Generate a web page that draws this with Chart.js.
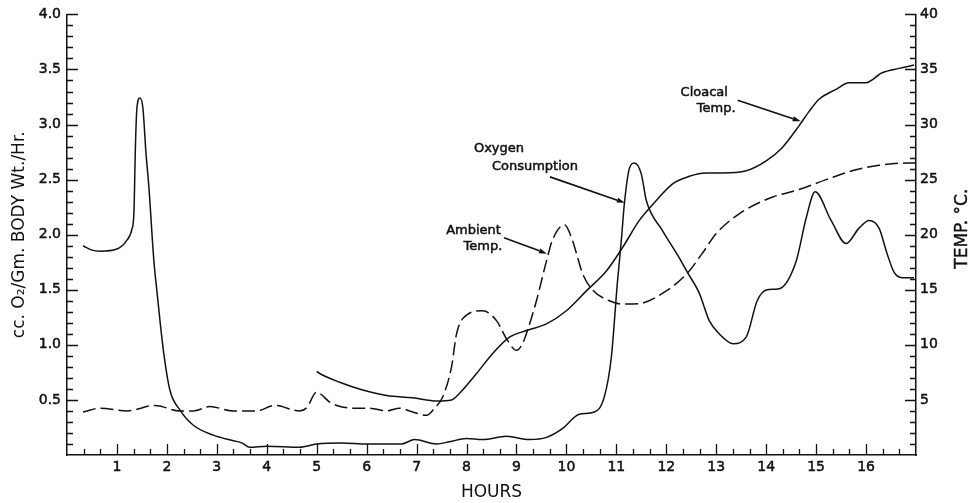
<!DOCTYPE html>
<html><head><meta charset="utf-8">
<script src="https://cdn.jsdelivr.net/npm/chart.js@4.4.1/dist/chart.umd.min.js"></script>
<style>html,body{margin:0;padding:0;background:#fff;} #wrap{width:977px;height:503px;position:relative;}</style>
</head><body><div id="wrap"><canvas id="c" width="977" height="503"></canvas></div>
<script>
// ---- data ----
const o2Hours = [0.32,0.5,0.66,1.0,1.2,1.3,1.34,1.37,1.40,1.46,1.52,1.58,1.64,1.74,1.8,1.93,2.06,2.26,2.53,2.93,3.33,3.5,3.66,4.0,4.66,5.0,5.5,6.0,6.4,6.7,6.96,7.4,7.66,8.0,8.32,8.8,9.26,9.6,9.92,10.26,10.56,10.76,10.9,11.02,11.1,11.16,11.26,11.36,11.5,11.6,11.92,12.26,12.42,12.66,12.86,13.06,13.34,13.6,13.82,14.02,14.26,14.6,14.8,14.98,15.3,15.6,15.86,16.06,16.26,16.42,16.56,16.72,16.96];
const o2Values = [1.90,1.86,1.85,1.87,1.95,2.05,2.2,2.8,3.15,3.24,3.15,2.75,2.43,1.76,1.49,0.95,0.59,0.41,0.27,0.18,0.13,0.11,0.07,0.08,0.07,0.10,0.11,0.10,0.10,0.10,0.14,0.10,0.12,0.15,0.14,0.17,0.14,0.16,0.24,0.37,0.39,0.53,0.89,1.56,1.95,2.28,2.6,2.65,2.55,2.31,2.04,1.79,1.66,1.47,1.22,1.10,1.01,1.07,1.40,1.50,1.51,1.76,2.15,2.39,2.13,1.92,2.06,2.13,2.06,1.83,1.66,1.61,1.61];

const ambientHours = [0.32,0.66,1.2,1.76,2.26,2.53,2.86,3.33,3.8,4.16,4.66,4.8,5.0,5.06,5.26,5.4,5.72,6.06,6.4,6.66,6.86,7.2,7.36,7.52,7.7,7.8,8.0,8.32,8.6,8.82,9.0,9.12,9.22,9.4,9.6,9.72,9.96,10.12,10.22,10.32,10.52,10.86,11.12,11.46,12.0,12.42,12.72,13.0,13.46,14.12,14.66,15.2,15.8,16.26,16.8,17.0];
const ambientTemps = [3.9,4.25,4.0,4.5,4.0,4.0,4.4,4.0,4.0,4.5,4.0,4.3,5.7,5.6,4.8,4.5,4.25,4.25,4.0,4.25,4.0,3.6,4.25,5.25,8.0,11.0,12.7,13.1,12.2,10.4,9.5,10.1,11.3,14.0,17.6,19.5,20.9,19.5,18.0,16.5,15.0,14.0,13.7,13.75,14.9,16.5,18.3,20.1,21.9,23.4,24.1,25.0,25.9,26.3,26.5,26.5];

const cloacalHours = [5.0,5.06,5.46,5.92,6.4,6.92,7.4,7.7,7.86,8.2,8.52,8.86,9.2,9.6,10.0,10.4,10.8,11.12,11.46,11.8,12.12,12.46,12.8,13.12,13.6,14.0,14.32,14.66,14.86,15.06,15.4,15.66,16.0,16.32,16.66,16.96];
const cloacalTemps = [7.6,7.4,6.6,5.9,5.4,5.2,4.9,5.0,5.6,7.4,9.2,10.7,11.3,11.9,13.1,14.9,16.7,18.8,21.3,23.1,24.6,25.3,25.6,25.6,25.8,26.7,27.9,29.9,31.2,32.3,33.2,33.8,33.8,34.7,35.1,35.4];

const hourTickLabels = ['1','2','3','4','5','6','7','8','9','10','11','12','13','14','15','16'];
const o2TickLabels = ['0.5','1.0','1.5','2.0','2.5','3.0','3.5','4.0'];
const tempTickLabels = ['5','10','15','20','25','30','35','40'];

// ---- annotation text and arrows (anchored in data units: hours, O2 axis) ----
const noteTexts = ['Oxygen','Consumption','Ambient','Temp.','Cloacal','Temp.'];
const noteAnchors = [[8.65,2.78],[9.37,2.615],[8.14,2.036],[8.33,1.89],[12.76,3.294],[13.0,3.145]];
const arrowLines = [[[9.67,2.525],[11.17,2.29]],[[8.75,1.973],[9.61,1.828]],[[13.43,3.22],[14.69,3.03]]];

const ink = '#111';
const toPts = (xs, ys) => xs.map((x, i) => ({x, y: ys[i]}));

const innerTicks = {
  id: 'innerTicks',
  afterDraw(chart) {
    const {ctx, chartArea: a, scales: {x, y, y2}} = chart;
    ctx.save();
    ctx.strokeStyle = ink; ctx.lineWidth = 1.3;
    ctx.beginPath();
    for (let i = 1; i < 51; i++) {
      const px = Math.round(x.getPixelForValue(i / 3)) + 0.5;
      const len = i % 3 === 0 ? 11 : 6;
      ctx.moveTo(px, a.bottom); ctx.lineTo(px, a.bottom - len);
    }
    for (let i = 1; i <= 40; i++) {
      const py = Math.round(y.getPixelForValue(i / 10)) + 0.5;
      const len = i % 5 === 0 ? 11 : 6;
      ctx.moveTo(a.left, py); ctx.lineTo(a.left + len, py);
    }
    for (let i = 1; i <= 40; i++) {
      const py = Math.round(y2.getPixelForValue(i)) + 0.5;
      const len = i % 5 === 0 ? 11 : 6;
      ctx.moveTo(a.right, py); ctx.lineTo(a.right - len, py);
    }
    ctx.stroke();

    // annotations
    ctx.fillStyle = ink;
    ctx.font = '13px "DejaVu Sans"';
    ctx.textAlign = 'center'; ctx.textBaseline = 'middle';
    ctx.lineWidth = 0.5;
    noteTexts.forEach((t, i) => {
      const tx = x.getPixelForValue(noteAnchors[i][0]), ty = y.getPixelForValue(noteAnchors[i][1]);
      ctx.fillText(t, tx, ty);
      ctx.strokeText(t, tx, ty);
    });
    ctx.lineWidth = 1.6;
    arrowLines.forEach(([p, q]) => {
      const x1 = x.getPixelForValue(p[0]), y1 = y.getPixelForValue(p[1]);
      const x2 = x.getPixelForValue(q[0]), y2p = y.getPixelForValue(q[1]);
      const ang = Math.atan2(y2p - y1, x2 - x1);
      const L = 8, W = 2.6;
      const bx = x2 - L * Math.cos(ang), by = y2p - L * Math.sin(ang);
      ctx.beginPath(); ctx.moveTo(x1, y1); ctx.lineTo(bx, by); ctx.stroke();
      ctx.beginPath();
      ctx.moveTo(x2, y2p);
      ctx.lineTo(bx - W * Math.sin(ang), by + W * Math.cos(ang));
      ctx.lineTo(bx + W * Math.sin(ang), by - W * Math.cos(ang));
      ctx.closePath(); ctx.fill();
    });

    // right axis title, reading bottom to top like the left one
    ctx.save();
    ctx.font = '17px "DejaVu Sans"';
    ctx.lineWidth = 0.4;
    ctx.translate(963, (a.top + a.bottom) / 2 - 6);
    ctx.rotate(-Math.PI / 2);
    ctx.fillText('TEMP. °C.', 0, 0);
    ctx.strokeText('TEMP. °C.', 0, 0);
    ctx.restore();
    ctx.restore();
  }
};

const tickFont = {family: 'DejaVu Sans', size: 14};
const titleFont = {family: 'DejaVu Sans', size: 17};
const lineBase = {borderColor: ink, borderWidth: 1.5, pointRadius: 0, fill: false, cubicInterpolationMode: 'monotone', showLine: true};

new Chart(document.getElementById('c'), {
  type: 'scatter',
  data: {
    datasets: [
      Object.assign({label: 'Oxygen Consumption', data: toPts(o2Hours, o2Values), yAxisID: 'y'}, lineBase),
      Object.assign({label: 'Ambient Temp.', data: toPts(ambientHours, ambientTemps), yAxisID: 'y2', borderDash: [13, 5]}, lineBase),
      Object.assign({label: 'Cloacal Temp.', data: toPts(cloacalHours, cloacalTemps), yAxisID: 'y2'}, lineBase)
    ]
  },
  options: {
    responsive: false,
    animation: false,
    layout: {padding: {top: 13, left: 0, right: 0, bottom: 0}},
    plugins: {legend: {display: false}, tooltip: {enabled: false}},
    scales: {
      x: {
        type: 'linear', position: 'bottom', min: 0, max: 17,
        afterFit(s) { s.height = 48; },
        grid: {display: false, drawTicks: false},
        border: {display: true, color: ink, width: 1.5},
        ticks: {stepSize: 1, padding: 4, color: ink, font: tickFont, maxRotation: 0, autoSkip: false,
          textStrokeColor: ink, textStrokeWidth: 0.5,
          callback: v => hourTickLabels.includes(String(v)) ? String(v) : ''},
        title: {display: true, text: 'HOURS', color: ink, font: titleFont, padding: {top: 0, bottom: 0}}
      },
      y: {
        type: 'linear', position: 'left', min: 0, max: 4,
        afterFit(s) { s.width = 67; },
        grid: {display: false, drawTicks: false},
        border: {display: true, color: ink, width: 1.5},
        ticks: {stepSize: 0.5, padding: 6, color: ink, font: tickFont,
          textStrokeColor: ink, textStrokeWidth: 0.5,
          callback: v => { const s = Number(v).toFixed(1); return o2TickLabels.includes(s) ? s : ''; }},
        title: {display: true, text: 'cc. O₂/Gm. BODY Wt./Hr.', color: ink, font: titleFont, padding: {top: 9, bottom: 0}}
      },
      y2: {
        type: 'linear', position: 'right', min: 0, max: 40,
        afterFit(s) { s.width = 61; },
        grid: {display: false, drawTicks: false},
        border: {display: true, color: ink, width: 1.5},
        ticks: {stepSize: 5, padding: 4, color: ink, font: tickFont,
          textStrokeColor: ink, textStrokeWidth: 0.5,
          callback: v => tempTickLabels.includes(String(v)) ? String(v) : ''}
      }
    }
  },
  plugins: [innerTicks]
});
</script>
</body></html>
